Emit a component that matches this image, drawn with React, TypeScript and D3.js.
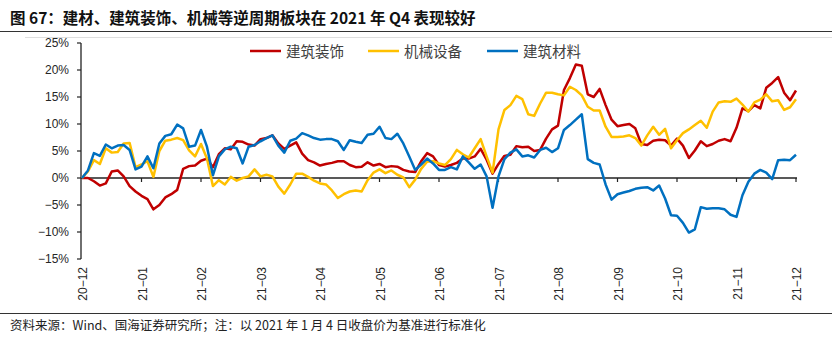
import React from "react";
import * as d3 from "d3";

const monthLabels = ["20-12", "21-01", "21-02", "21-03", "21-04", "21-05", "21-06", "21-07", "21-08", "21-09", "21-10", "21-11", "21-12"];
const yTicks = [-15, -10, -5, 0, 5, 10, 15, 20, 25];
const seriesNames = ["建筑装饰", "机械设备", "建筑材料"];
const seriesColors = ["#C00000", "#FFC000", "#0070C0"];

// values in %, sampled every 0.1 month (index 0..120)
const redValues = [
  0, 0, -0.6, -1.4, -1.0, 1.2, 1.4, 0.3, -1.5, -2.5,
  -3.3, -3.9, -5.8, -5.0, -3.6, -3.0, -2.2, 1.7, 2.2, 2.3,
  3.2, 3.6, 2.0, 4.4, 5.5, 5.3, 6.8, 6.7, 6.2, 6.0,
  7.2, 7.4, 7.9, 6.4, 5.4, 6.0, 6.6, 4.5, 3.3, 2.9,
  2.3, 2.6, 2.8, 3.1, 3.1, 2.4, 2.0, 2.1, 2.9, 2.3,
  2.6, 2.0, 2.2, 2.1, 1.5, 1.2, 1.1, 3.1, 4.6, 4.0,
  2.4, 2.1, 2.4, 2.8, 3.6, 3.6, 4.0, 5.4, 3.4, 0.8,
  2.6, 4.1, 4.3, 5.9, 5.7, 5.8, 5.0, 5.2, 7.3, 9.0,
  9.7, 16.3, 18.5, 21.0, 20.8, 15.5, 15.0, 16.5, 13.5, 10.8,
  9.6, 9.8, 10.0, 9.2, 6.3, 6.1, 6.9, 7.1, 7.0, 6.0,
  7.3, 6.0, 3.7, 5.1, 6.8, 5.9, 6.3, 6.9, 7.2, 6.8,
  9.3, 12.9, 12.4, 13.5, 12.9, 16.7, 17.6, 18.7, 15.8, 14.4,
  16.2,
];

const yellowValues = [
  0, 1.2, 3.3, 2.6, 5.5, 4.7, 4.8, 6.4, 6.5, 2.0,
  2.5, 3.1, 0.2, 5.0, 6.9, 7.1, 7.4, 7.0, 5.1, 4.0,
  6.3, 3.6, -1.5, -0.4, -1.2, 0.2, -0.5, 0.0, 0.3, 1.6,
  0.3, 0.6, 0.3, -1.6, -2.9, -1.2, 0.8, 0.8, 0.2, -0.5,
  -1.0, -1.2, -2.3, -3.7, -3.0, -2.5, -2.3, -2.5, -0.4, 1.0,
  1.6, 0.9, 1.4, 0.6, 0.1, -1.7, -0.3, 1.7, 3.0, 3.1,
  2.7, 2.4, 3.5, 5.2, 4.4, 3.8, 5.5, 7.2, 4.0, 1.0,
  9.0, 12.6, 13.5, 15.2, 14.6, 11.8, 11.5, 13.8, 15.8, 15.8,
  15.5, 15.3, 16.9, 16.3, 15.3, 13.2, 12.5, 12.5, 9.5, 7.6,
  7.6, 7.7, 7.9, 7.4, 6.0, 7.9, 9.5, 8.0, 9.1, 5.5,
  7.0, 8.3, 9.0, 9.8, 10.6, 9.3, 12.3, 14.0, 14.2, 14.1,
  14.7, 13.6, 12.3, 14.0, 14.5, 15.5, 14.2, 14.4, 12.6, 13.1,
  14.6,
];

const blueValues = [
  0, 1.4, 4.6, 4.1, 6.2, 5.5, 6.0, 6.1, 5.2, 1.6,
  2.1, 4.0, 1.8, 6.4, 7.8, 8.1, 9.9, 9.2, 5.8, 6.0,
  8.9, 5.8, 0.5, 4.0, 5.3, 5.8, 5.5, 2.7, 5.8, 6.1,
  6.8, 7.4, 7.9, 6.0, 4.7, 6.9, 7.3, 8.3, 7.9, 7.4,
  7.1, 7.2, 7.2, 6.8, 5.2, 7.0, 6.7, 6.5, 8.0, 8.2,
  9.5, 7.4, 7.2, 8.2, 6.4, 4.0, 1.5, 2.5, 3.6, 2.7,
  1.5, 1.5, 2.0, 1.6, 4.0, 2.9, 1.7, 2.5, 0.3, -5.5,
  0.3, 3.5, 4.7, 5.3, 4.0, 4.2, 3.8, 5.2, 5.6, 4.8,
  5.5, 8.9, 9.8, 10.8, 11.8, 3.5, 2.8, 2.5, -1.2, -4.0,
  -3.0, -2.7, -2.4, -2.0, -1.8, -1.7, -2.3, -1.4, -3.8, -6.9,
  -7.0, -8.3, -10.1, -9.5, -5.4, -5.7, -5.6, -5.6, -5.8, -6.8,
  -7.2, -3.2, -0.7, 0.8, 1.5, 1.0, -0.2, 3.3, 3.4, 3.3,
  4.3,
];

const allSeries = [redValues, yellowValues, blueValues];

const W = 832;
const H = 343;
const latin = "'Liberation Sans', Arial, sans-serif";
const cjk = "'Noto Sans CJK SC', 'Liberation Sans', sans-serif";

export default function App() {
  const x = d3.scaleLinear().domain([0, 120]).range([82, 796]);
  const y = d3.scaleLinear().domain([-15, 25]).range([259, 43]);
  const line = d3
    .line<number>()
    .x((_, i) => x(i))
    .y((d) => y(d));

  const axisX = 81;
  const legendItems = [
    { lx: 250, tx: 286 },
    { lx: 368, tx: 404 },
    { lx: 487, tx: 523 },
  ];

  return (
    <svg
      width={W}
      height={H}
      style={{ position: "absolute", left: 0, top: 0, background: "#fff" }}
    >
      <rect x={0} y={0} width={W} height={H} fill="#fff" />
      {/* title */}
      <text x={10} y={24} fontFamily={cjk} fontWeight={700} fontSize={15.5} fill="#111">
        图 67：建材、建筑装饰、机械等逆周期板块在 2021 年 Q4 表现较好
      </text>
      <line x1={0} x2={W} y1={31.5} y2={31.5} stroke="#333" strokeWidth={1} />
      <line x1={25} x2={W} y1={37.5} y2={37.5} stroke="#dedede" strokeWidth={1} />

      {/* y axis */}
      <line x1={axisX} x2={axisX} y1={y(25)} y2={y(-15)} stroke="#222" strokeWidth={1.3} />
      {yTicks.map((t) => (
        <g key={t}>
          <line x1={axisX - 4} x2={axisX} y1={y(t)} y2={y(t)} stroke="#222" strokeWidth={1.2} />
          <text
            x={69}
            y={y(t)}
            dy="0.35em"
            textAnchor="end"
            fontFamily={latin}
            fontSize={12}
            fill="#262626"
          >
            {(t < 0 ? "\u2212" + Math.abs(t) : String(t)) + "%"}
          </text>
        </g>
      ))}

      {/* x axis at zero */}
      <line x1={axisX} x2={x(120) + 1} y1={y(0)} y2={y(0)} stroke="#222" strokeWidth={1.6} />
      {monthLabels.map((m, i) => (
        <g key={m}>
          {i > 0 && (
            <line x1={x(i * 10)} x2={x(i * 10)} y1={y(0)} y2={y(0) + 4} stroke="#222" strokeWidth={1.2} />
          )}
          <text
            transform={`translate(${x(i * 10) + 1},267) rotate(-90)`}
            dy="0.35em"
            textAnchor="end"
            fontFamily={latin}
            fontSize={12}
            fill="#262626"
          >
            {m.replace("-", "\u2212")}
          </text>
        </g>
      ))}

      {/* series */}
      {allSeries.map((vals, si) => (
        <path
          key={si}
          d={line(vals) || ""}
          fill="none"
          stroke={seriesColors[si]}
          strokeWidth={2.5}
          strokeLinejoin="round"
        />
      ))}

      {/* legend */}
      {seriesNames.map((n, i) => (
        <g key={n}>
          <line
            x1={legendItems[i].lx}
            x2={legendItems[i].lx + 31}
            y1={51}
            y2={51}
            stroke={seriesColors[i]}
            strokeWidth={2.5}
          />
          <text
            x={legendItems[i].tx}
            y={56.5}
            fontFamily={cjk}
            fontSize={14.5}
            fill="#404040"
          >
            {n}
          </text>
        </g>
      ))}

      {/* footer */}
      <line x1={0} x2={W} y1={313.5} y2={313.5} stroke="#333" strokeWidth={1} />
      <text x={10} y={330} fontFamily={cjk} fontSize={12.5} fill="#222">
        资料来源：Wind、国海证券研究所；注：以 2021 年 1 月 4 日收盘价为基准进行标准化
      </text>
    </svg>
  );
}
